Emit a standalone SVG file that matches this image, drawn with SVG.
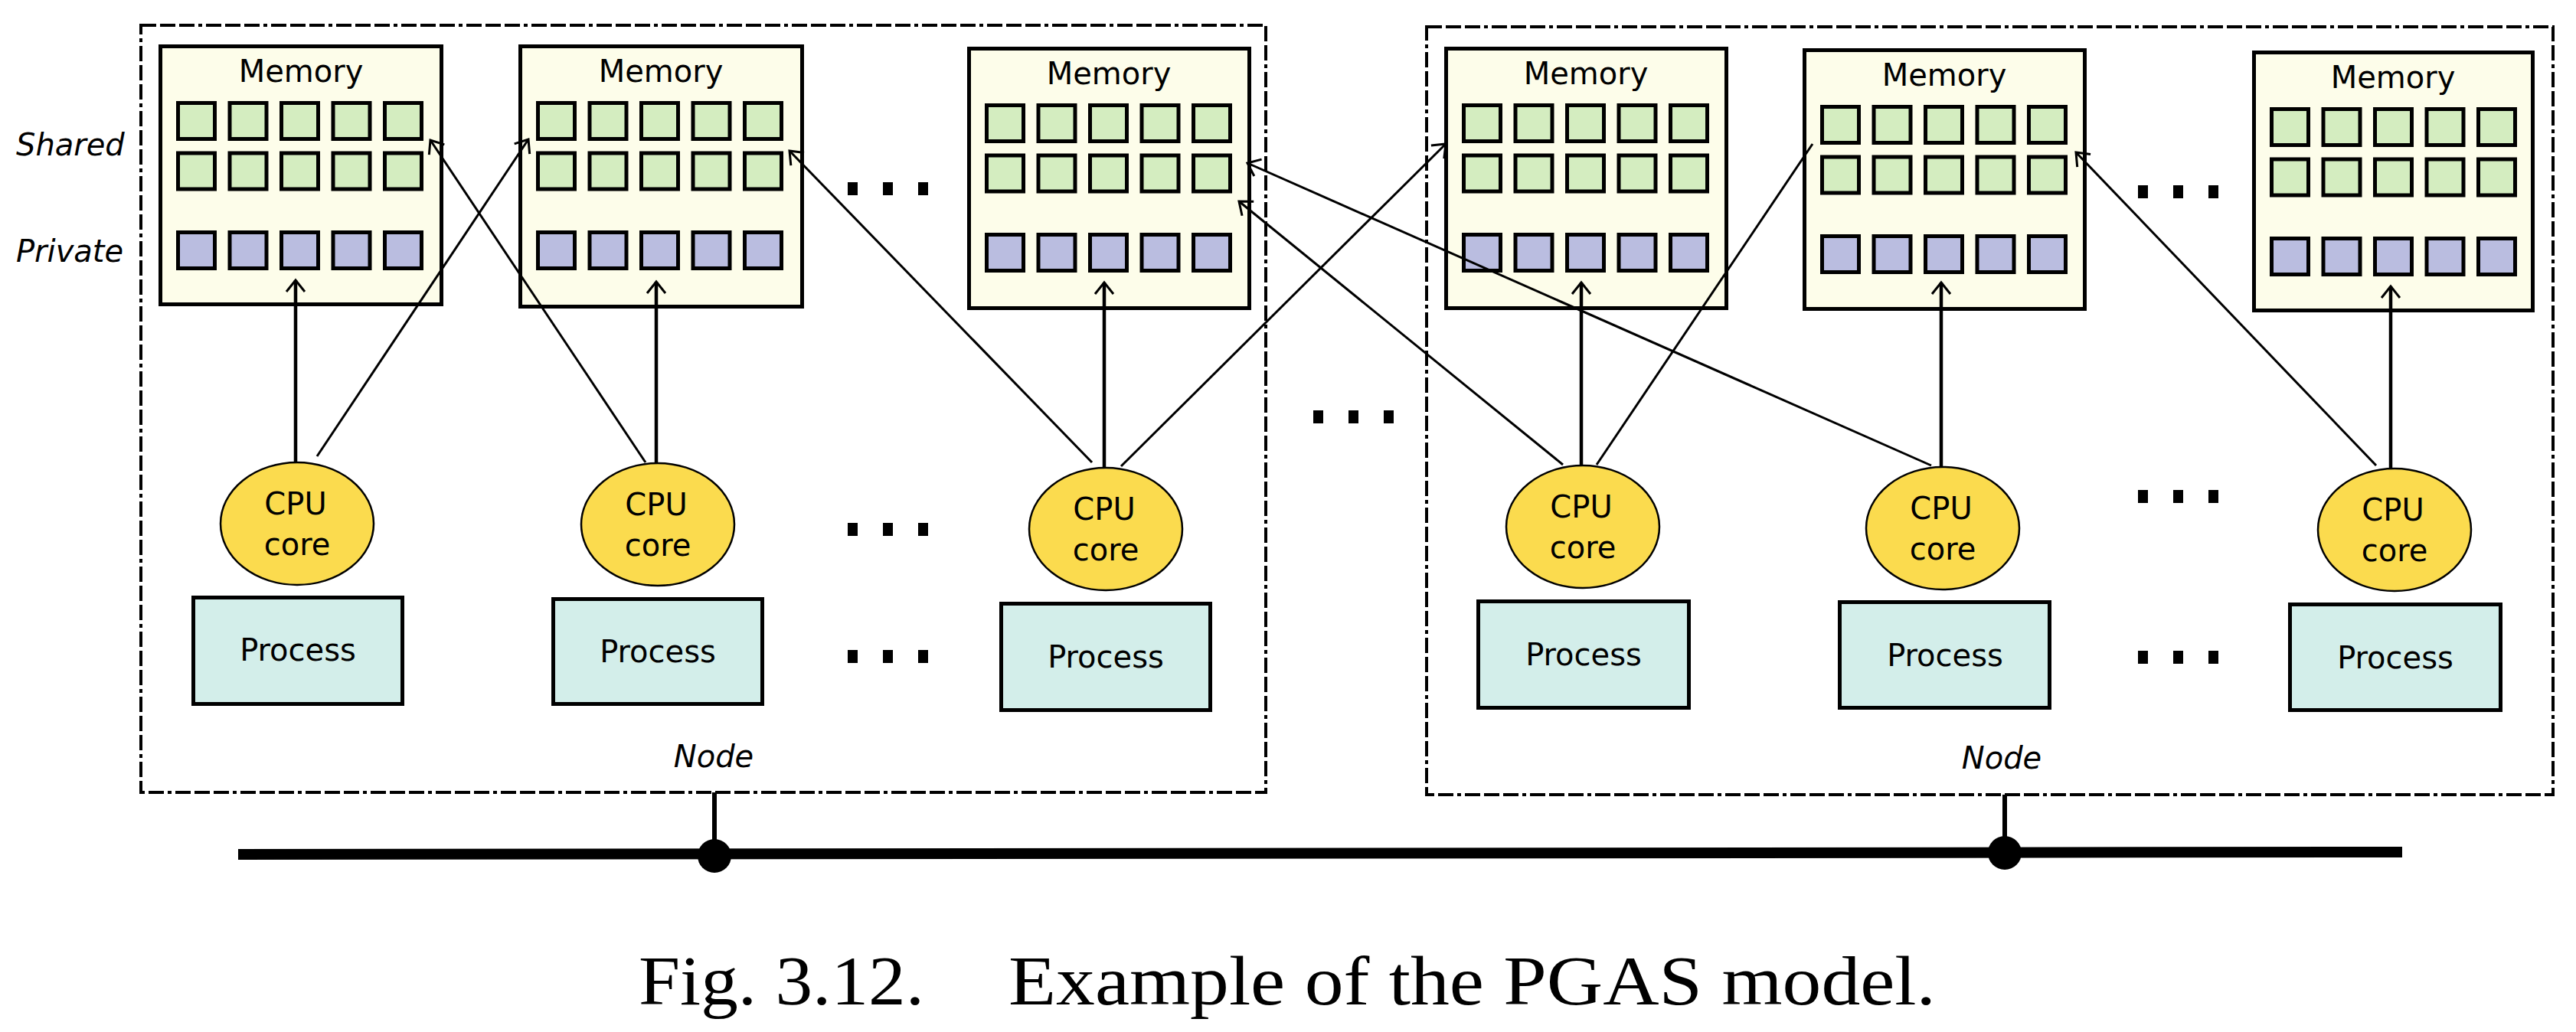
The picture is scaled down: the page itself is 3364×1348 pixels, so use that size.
<svg xmlns="http://www.w3.org/2000/svg" xmlns:xlink="http://www.w3.org/1999/xlink" width="3364" height="1348" viewBox="0 0 3364 1348">
<style>
.mem{fill:#fdfdea;stroke:#000;stroke-width:5}
.sh{fill:#d4edc0;stroke:#000;stroke-width:5}
.pr{fill:#babde0;stroke:#000;stroke-width:5}
.cpu{fill:#fbdb4e;stroke:#000;stroke-width:2.5}
.proc{fill:#d3eeea;stroke:#000;stroke-width:5}
.nodebox{fill:none;stroke:#000;stroke-width:4;stroke-dasharray:20 5 20 5 20 5 5 5}
.t{font-family:"DejaVu Sans",Verdana,sans-serif;font-size:40px;text-anchor:middle;fill:#000}
.lbl{font-family:"DejaVu Sans",Verdana,sans-serif;font-size:40px;font-style:italic;fill:#000}
.v{stroke:#000;stroke-width:4.5;fill:none}
.d{stroke:#000;stroke-width:3;fill:none}
.dot{fill:#000}
.cap{font-family:"Liberation Serif","Times New Roman",serif;font-size:92px;fill:#000}
</style>
<defs>
<marker id="ah" markerUnits="userSpaceOnUse" viewBox="0 0 40 40" markerWidth="40" markerHeight="40" refX="20" refY="20" orient="auto">
<path d="M5 8 L20 20 L5 32" fill="none" stroke="#000" stroke-width="3"/>
</marker>
<g id="cells">
<rect class="sh" x="25.5" y="76.5" width="48" height="47"/>
<rect class="sh" x="93" y="76.5" width="48" height="47"/>
<rect class="sh" x="160.5" y="76.5" width="48" height="47"/>
<rect class="sh" x="228" y="76.5" width="48" height="47"/>
<rect class="sh" x="295.5" y="76.5" width="48" height="47"/>
<rect class="sh" x="25.5" y="142" width="48" height="47"/>
<rect class="sh" x="93" y="142" width="48" height="47"/>
<rect class="sh" x="160.5" y="142" width="48" height="47"/>
<rect class="sh" x="228" y="142" width="48" height="47"/>
<rect class="sh" x="295.5" y="142" width="48" height="47"/>
<rect class="pr" x="25.5" y="245.5" width="48" height="47"/>
<rect class="pr" x="93" y="245.5" width="48" height="47"/>
<rect class="pr" x="160.5" y="245.5" width="48" height="47"/>
<rect class="pr" x="228" y="245.5" width="48" height="47"/>
<rect class="pr" x="295.5" y="245.5" width="48" height="47"/>
</g>
<g id="dots3">
<rect class="dot" x="0" y="0" width="13" height="17"/>
<rect class="dot" x="46" y="0" width="13" height="17"/>
<rect class="dot" x="92" y="0" width="13" height="17"/>
</g>
</defs>
<rect width="3364" height="1348" fill="#fff"/>

<g id="node1">
<rect class="nodebox" x="184" y="33" width="1469" height="1002"/>
<text class="t lbl" x="932" y="1002" style="text-anchor:middle">Node</text>
</g>
<g id="node2">
<rect class="nodebox" x="1863" y="35" width="1471" height="1003"/>
<text class="t lbl" x="2614" y="1004" style="text-anchor:middle">Node</text>
</g>

<g id="labels">
<text class="lbl" x="21" y="203">Shared</text>
<text class="lbl" x="21" y="342">Private</text>
</g>

<g id="mem1">
<rect class="mem" x="209.5" y="60.5" width="367" height="337"/>
<use xlink:href="#cells" href="#cells" x="207" y="58"/>
<text class="t" x="393" y="107">Memory</text>
</g>
<g id="mem2">
<rect class="mem" x="679.5" y="60.5" width="368" height="340"/>
<use xlink:href="#cells" href="#cells" x="677" y="58"/>
<text class="t" x="863" y="107">Memory</text>
</g>
<g id="mem3">
<rect class="mem" x="1265.5" y="63.5" width="366" height="339"/>
<use xlink:href="#cells" href="#cells" x="1263" y="61"/>
<text class="t" x="1448" y="110">Memory</text>
</g>
<g id="mem4">
<rect class="mem" x="1888.5" y="63.5" width="366" height="339"/>
<use xlink:href="#cells" href="#cells" x="1886" y="61"/>
<text class="t" x="2071" y="110">Memory</text>
</g>
<g id="mem5">
<rect class="mem" x="2356.5" y="65.5" width="366" height="338"/>
<use xlink:href="#cells" href="#cells" x="2354" y="63"/>
<text class="t" x="2539" y="112">Memory</text>
</g>
<g id="mem6">
<rect class="mem" x="2943.5" y="68.5" width="364" height="337"/>
<use xlink:href="#cells" href="#cells" x="2941" y="66"/>
<text class="t" x="3125" y="115">Memory</text>
</g>

<g id="connectors">
<line class="v" x1="386" y1="604" x2="386" y2="366" marker-end="url(#ah)"/>
<line class="v" x1="857" y1="606" x2="857" y2="368" marker-end="url(#ah)"/>
<line class="v" x1="1442" y1="611" x2="1442" y2="369" marker-end="url(#ah)"/>
<line class="v" x1="2065" y1="608" x2="2065" y2="369" marker-end="url(#ah)"/>
<line class="v" x1="2535" y1="610" x2="2535" y2="369" marker-end="url(#ah)"/>
<line class="v" x1="3122" y1="612" x2="3122" y2="374" marker-end="url(#ah)"/>
<line class="d" x1="414" y1="596" x2="690" y2="182" marker-end="url(#ah)"/>
<line class="d" x1="843" y1="604" x2="562" y2="183" marker-end="url(#ah)"/>
<line class="d" x1="1426" y1="604" x2="1031" y2="197" marker-end="url(#ah)"/>
<line class="d" x1="1464" y1="609" x2="1888" y2="188" marker-end="url(#ah)"/>
<line class="d" x1="2041" y1="607" x2="1618" y2="263" marker-end="url(#ah)"/>
<line class="d" x1="2085" y1="607" x2="2367" y2="188"/>
<line class="d" x1="2522" y1="608" x2="1629" y2="213" marker-end="url(#ah)"/>
<line class="d" x1="3103" y1="608" x2="2711" y2="199" marker-end="url(#ah)"/>
</g>

<g id="cpu1"><ellipse class="cpu" cx="388" cy="684" rx="100" ry="80"/><text class="t" x="386" y="672">CPU</text><text class="t" x="388" y="725">core</text></g>
<g id="cpu2"><ellipse class="cpu" cx="859" cy="685" rx="100" ry="80"/><text class="t" x="857" y="673">CPU</text><text class="t" x="859" y="726">core</text></g>
<g id="cpu3"><ellipse class="cpu" cx="1444" cy="691" rx="100" ry="80"/><text class="t" x="1442" y="679">CPU</text><text class="t" x="1444" y="732">core</text></g>
<g id="cpu4"><ellipse class="cpu" cx="2067" cy="688" rx="100" ry="80"/><text class="t" x="2065" y="676">CPU</text><text class="t" x="2067" y="729">core</text></g>
<g id="cpu5"><ellipse class="cpu" cx="2537" cy="690" rx="100" ry="80"/><text class="t" x="2535" y="678">CPU</text><text class="t" x="2537" y="731">core</text></g>
<g id="cpu6"><ellipse class="cpu" cx="3127" cy="692" rx="100" ry="80"/><text class="t" x="3125" y="680">CPU</text><text class="t" x="3127" y="733">core</text></g>

<g id="proc1"><rect class="proc" x="252.5" y="780.5" width="273" height="139"/><text class="t" x="389" y="863">Process</text></g>
<g id="proc2"><rect class="proc" x="722.5" y="782.5" width="273" height="137"/><text class="t" x="859" y="865">Process</text></g>
<g id="proc3"><rect class="proc" x="1307.5" y="788.5" width="273" height="139"/><text class="t" x="1444" y="872">Process</text></g>
<g id="proc4"><rect class="proc" x="1930.5" y="785.5" width="275" height="139"/><text class="t" x="2068" y="869">Process</text></g>
<g id="proc5"><rect class="proc" x="2402.5" y="786.5" width="274" height="138"/><text class="t" x="2540" y="870">Process</text></g>
<g id="proc6"><rect class="proc" x="2990.5" y="789.5" width="275" height="138"/><text class="t" x="3128" y="873">Process</text></g>

<g id="ellipses">
<use xlink:href="#dots3" href="#dots3" x="1107" y="238"/>
<use xlink:href="#dots3" href="#dots3" x="1107" y="683"/>
<use xlink:href="#dots3" href="#dots3" x="1107" y="849"/>
<use xlink:href="#dots3" href="#dots3" x="1715" y="536"/>
<use xlink:href="#dots3" href="#dots3" x="2792" y="242"/>
<use xlink:href="#dots3" href="#dots3" x="2792" y="640"/>
<use xlink:href="#dots3" href="#dots3" x="2792" y="850"/>
</g>

<g id="bus">
<line x1="311" y1="1116" x2="3137" y2="1113" stroke="#000" stroke-width="14"/>
<line x1="933" y1="1035" x2="933" y2="1118" stroke="#000" stroke-width="6"/>
<line x1="2618" y1="1038" x2="2618" y2="1114" stroke="#000" stroke-width="6"/>
<circle cx="933" cy="1118" r="22" fill="#000"/>
<circle cx="2618" cy="1114" r="22" fill="#000"/>
</g>

<g id="caption">
<text class="cap" x="834" y="1312" textLength="373" lengthAdjust="spacingAndGlyphs">Fig. 3.12.</text>
<text class="cap" x="1317" y="1312" textLength="1211" lengthAdjust="spacingAndGlyphs">Example of the PGAS model.</text>
</g>
</svg>
